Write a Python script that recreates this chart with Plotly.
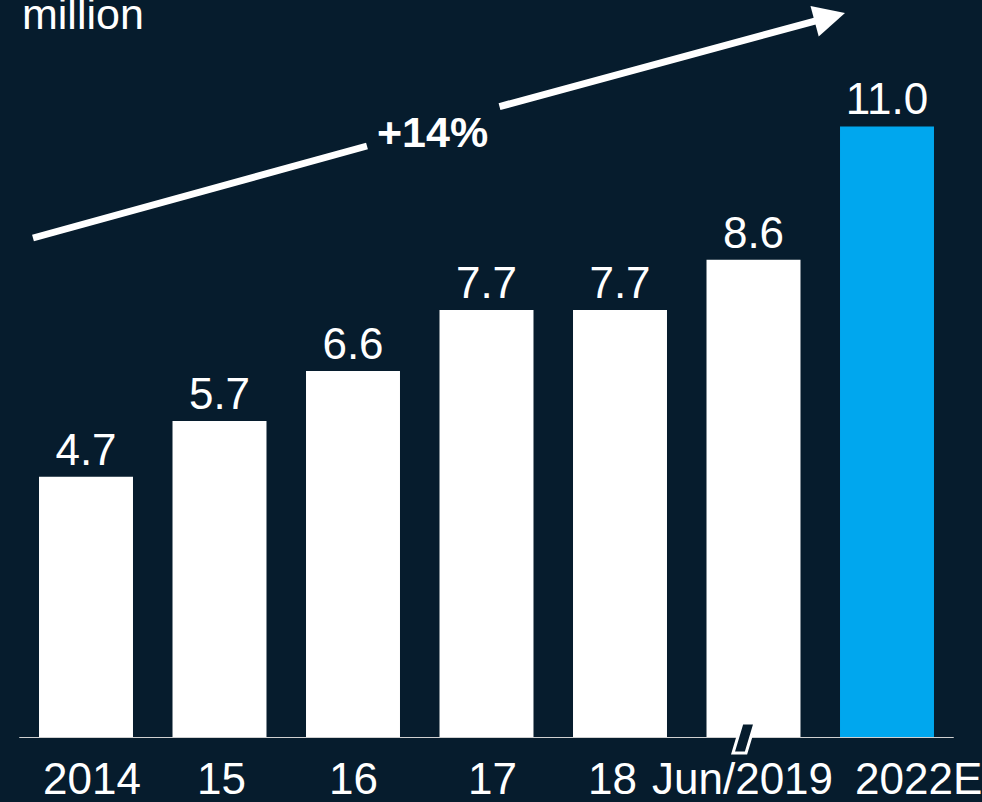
import plotly.graph_objects as go

# Data
categories = ["2014", "15", "16", "17", "18", "Jun/2019", "2022E"]
values = [4.7, 5.7, 6.6, 7.7, 7.7, 8.6, 11.0]
bar_colors = ["#ffffff"] * 6 + ["#00a7ee"]
unit_label = "million"
cagr_label = "+14%"

BG = "#061c2d"
W, H = 982, 802
MB = 64  # bottom margin (space for category labels)
PLOT_H = H - MB

# horizontal nudges of the category labels (pixels)
label_shift = [6, 2, 0, 6, -8, -11, 31]


def px(x):
    return x / W


def py(y):
    return (PLOT_H - y) / PLOT_H


fig = go.Figure(
    go.Bar(
        x=categories,
        y=values,
        marker=dict(color=bar_colors, line=dict(width=0)),
        width=0.704,
        texttemplate="%{y:.1f}",
        textposition="outside",
        textfont=dict(size=44, color="#ffffff"),
        cliponaxis=False,
    )
)

shapes = [
    # baseline
    dict(type="line", xref="x", yref="y", x0=-0.5, x1=6.5, y0=0, y1=0,
         line=dict(color="#d0d0d0", width=2)),
    # axis break marker under Jun/2019
    dict(type="path", xref="paper", yref="paper",
         path=f"M {px(742)},{py(723)} L {px(755)},{py(723)} L {px(746)},{py(753)} L {px(733)},{py(753)} Z",
         fillcolor=BG, line=dict(color="#ffffff", width=3)),
    # growth arrow: first segment (before the label gap)
    dict(type="line", xref="paper", yref="paper",
         x0=px(33), y0=py(238), x1=px(367), y1=py(146),
         line=dict(color="#ffffff", width=7)),
]

annotations = [
    # growth arrow: second segment with head
    dict(xref="paper", yref="paper", x=px(845), y=py(13), ax=498 - 845, ay=107 - 13,
         text="", showarrow=True, arrowhead=2, arrowsize=0.9, arrowwidth=7,
         arrowcolor="#ffffff", standoff=0, startstandoff=0),
    dict(xref="paper", yref="paper", x=px(432), y=py(132), text=f"<b>{cagr_label}</b>",
         showarrow=False, font=dict(size=43, color="#ffffff"), xanchor="center", yanchor="middle"),
    dict(xref="paper", yref="paper", x=px(20), y=py(40), text=unit_label,
         showarrow=False, font=dict(size=43, color="#ffffff"), xanchor="left", yanchor="bottom"),
]

# category labels below the baseline (positioned by category index)
for i, (cat, dx) in enumerate(zip(categories, label_shift)):
    annotations.append(dict(
        xref="x", yref="paper", x=i, y=py(778), xshift=dx, text=cat,
        showarrow=False, font=dict(size=44, color="#ffffff"),
        xanchor="center", yanchor="middle",
    ))

fig.update_layout(
    width=W, height=H,
    margin=dict(l=0, r=0, t=0, b=MB, autoexpand=False),
    paper_bgcolor=BG, plot_bgcolor=BG,
    font=dict(family="Liberation Sans, Arial, sans-serif", color="#ffffff"),
    showlegend=False,
    shapes=shapes,
    annotations=annotations,
    xaxis=dict(type="category", range=[-86 / 133.5, (W - 86) / 133.5],
               showgrid=False, zeroline=False, showline=False, ticks="",
               showticklabels=False, automargin=False),
    yaxis=dict(range=[0, PLOT_H / 55.6], visible=False, showgrid=False,
               zeroline=False, automargin=False),
)

fig.write_html("out.html")
